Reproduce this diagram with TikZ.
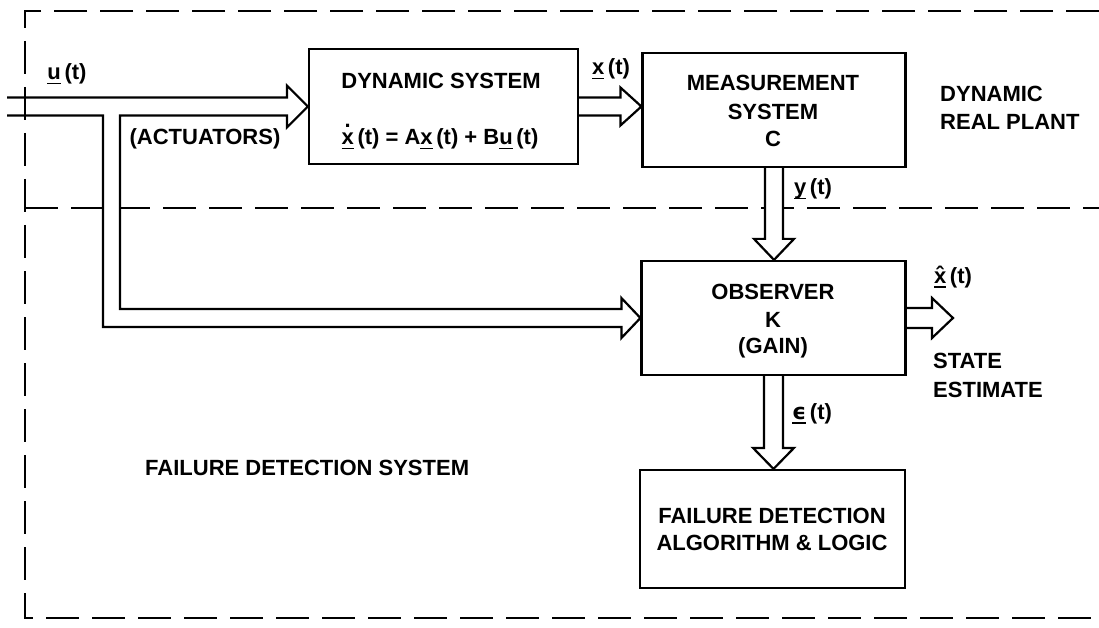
\documentclass[tikz,border=0pt]{standalone}
\usepackage{fontspec}
\setmainfont{Liberation Sans}
\newfontfamily\djv{DejaVu Sans}
\usetikzlibrary{calc}
\newcommand{\ulv}[1]{\setbox0\hbox{#1}\rlap{\rule[-4.5pt]{\wd0}{1.8pt}}\box0}
\newcommand{\xdot}{\setbox0\hbox{x}\rlap{\hbox to \wd0{\hss\raisebox{17pt}{.}\hss}}\box0}
\begin{document}
\begin{tikzpicture}[x=1pt,y=-1pt,
  lbl/.style={font=\fontsize{22}{28}\selectfont\bfseries, inner sep=0pt, anchor=base},
  box/.style={draw, line width=2.2pt, inner sep=0pt},
  frame/.style={line width=2.6pt, dash pattern=on 33pt off 13pt},
  pipe/.style={line width=2.2pt, line join=miter}]
\useasboundingbox (0,0) rectangle (1099,628);

% frame
\draw[frame] (1099,11) -- (25,11) -- (25,618) -- (1099,618);
\draw[frame] (25,208) -- (1099,208);

% boxes
\node[box, minimum width=269pt, minimum height=115pt] (ds) at (443.5,106.5) {};
\node[box, minimum width=263pt, minimum height=114pt] (ms) at (774,110) {};
\node[box, minimum width=264pt, minimum height=114pt] (obs) at (773.5,318) {};
\node[box, minimum width=265pt, minimum height=118pt] (fd) at (772.5,529) {};

\coordinate (uin) at (7,106.5);
\coordinate (bo) at (103,0);
\coordinate (bi) at (120,0);
\coordinate (xh) at (953,318);

% white masks inside pipes crossing the dashed line
\fill[white] ($(bo |- ds.west)+(0,9)$) rectangle ($(bi |- obs.west)+(0,-9)$);
\fill[white] ($(ms.south)+(-9,0)$) rectangle ($(ms.south |- obs.north)+(9,-20)$);

% input pipe u(t) with branch to observer
\draw[pipe] ($(uin)+(0,-9)$) -- ($(ds.west)+(-21,-9)$) -- ++(0,-12) -- (ds.west)
  -- ($(ds.west)+(-21,21)$) -- ++(0,-12) -- ($(bi |- ds.west)+(0,9)$)
  -- ($(bi |- obs.west)+(0,-9)$) -- ($(obs.west)+(-19,-9)$) -- ++(0,-11) -- (obs.west)
  -- ($(obs.west)+(-19,20)$) -- ++(0,-11) -- ($(bo |- obs.west)+(0,9)$)
  -- ($(bo |- ds.west)+(0,9)$) -- ($(uin)+(0,9)$);

% x(t) pipe
\draw[pipe] ($(ds.east)+(0,-9)$) -- ($(ms.west |- ds.east)+(-21,-9)$) -- ++(0,-10)
  -- (ms.west |- ds.east) -- ($(ms.west |- ds.east)+(-21,19)$) -- ++(0,-10) -- ($(ds.east)+(0,9)$);

% y(t) pipe
\draw[pipe] ($(ms.south)+(-9,0)$) -- ($(ms.south |- obs.north)+(-9,-21)$) -- ++(-11,0)
  -- (ms.south |- obs.north) -- ($(ms.south |- obs.north)+(20,-21)$) -- ++(-11,0) -- ($(ms.south)+(9,0)$);

% epsilon pipe
\draw[pipe] ($(obs.south)+(-9.5,0)$) -- ($(obs.south |- fd.north)+(-9.5,-21)$) -- ++(-11,0)
  -- (obs.south |- fd.north) -- ($(obs.south |- fd.north)+(20.5,-21)$) -- ++(-11,0) -- ($(obs.south)+(9.5,0)$);

% state estimate pipe
\draw[pipe] ($(obs.east)+(0,-10)$) -- ($(xh)+(-21,-10)$) -- ++(0,-10) -- (xh)
  -- ($(xh)+(-21,20)$) -- ++(0,-10) -- ($(obs.east)+(0,10)$);

% texts
\node[lbl] (t1) at (441,89) {DYNAMIC SYSTEM};
\node[lbl] (t2) at (440,145) {\ulv{\xdot}\,(t) = A\ulv{x}\,(t) + B\ulv{u}\,(t)};
\node[lbl] (t3) at (611,75) {\ulv{x}\,(t)};
\node[lbl] (t4) at (67,80) {\ulv{u}\,(t)};
\node[lbl] (t5) at (205,145) {(ACTUATORS)};
\node[lbl] (t6) at (773,91) {MEASUREMENT};
\node[lbl] (t7) at (773,120) {SYSTEM};
\node[lbl] (t8) at (773,147) {C};
\node[lbl] (t9) at (813,195) {\ulv{y}\,(t)};
\node[lbl, anchor=base west] (t10) at (940,102) {DYNAMIC};
\node[lbl, anchor=base west] (t11) at (940,130) {REAL PLANT};
\node[lbl] (t12) at (773,299) {OBSERVER};
\node[lbl] (t13) at (773,327) {K};
\node[lbl] (t14) at (773,353) {(GAIN)};
\node[lbl] (t15) at (953,283) {\ulv{\^{x}}\,(t)};
\node[lbl, anchor=base west] (t16) at (933,368) {STATE};
\node[lbl, anchor=base west] (t17) at (933,397) {ESTIMATE};
\node[lbl] (t18) at (812,419) {\ulv{{\djv\bfseries ϵ}}\,(t)};
\node[lbl] (t19) at (772,523) {FAILURE DETECTION};
\node[lbl] (t20) at (772,550) {ALGORITHM \& LOGIC};
\node[lbl, anchor=base west] (t21) at (145,475) {FAILURE DETECTION SYSTEM};
\end{tikzpicture}
\end{document}
